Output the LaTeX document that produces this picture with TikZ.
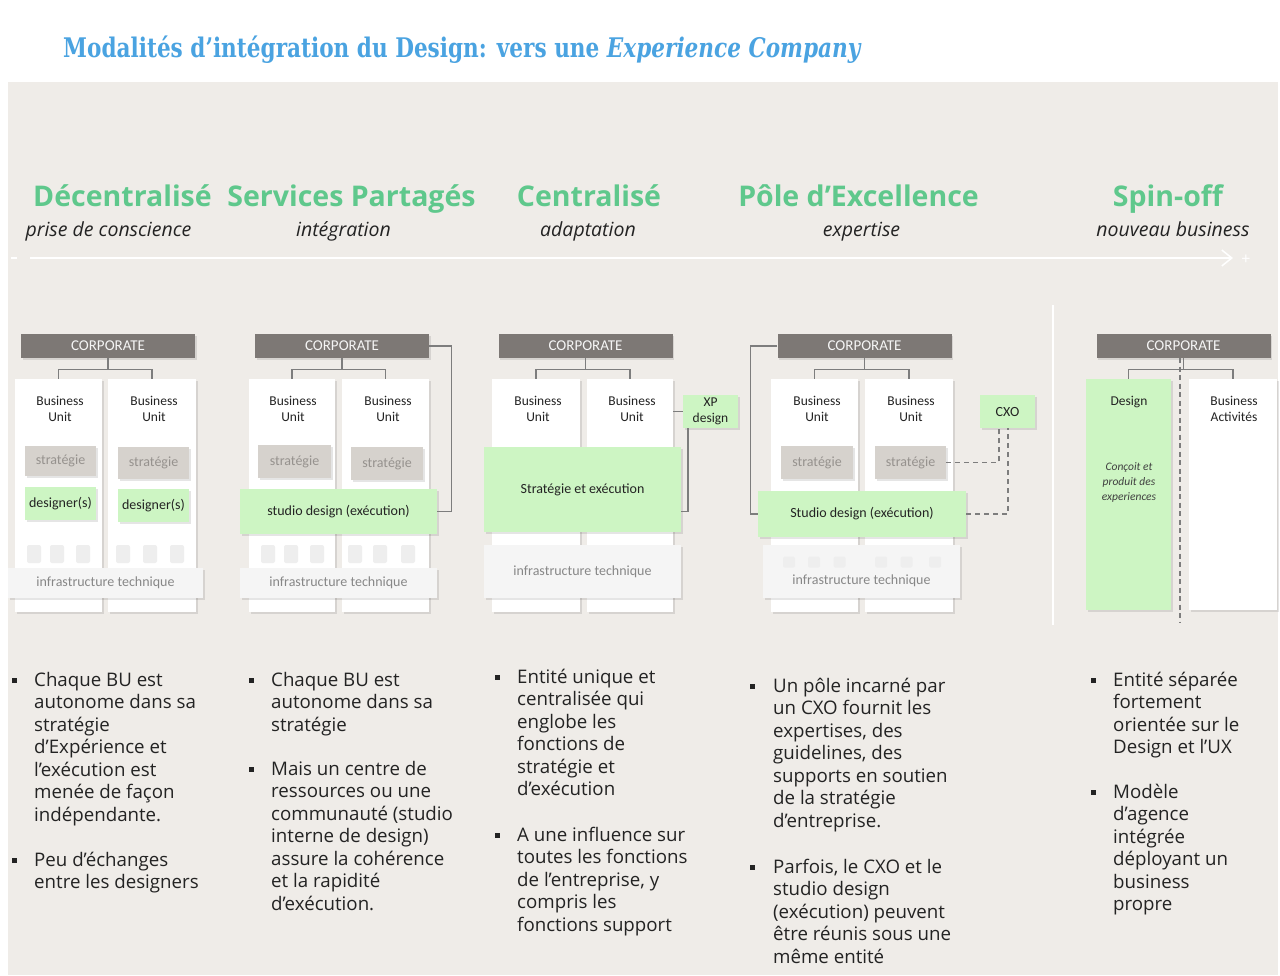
\documentclass[tikz,border=0pt]{standalone}
\usepackage{fontspec}
\setmainfont{Open Sans}
\newfontfamily\carl{Carlito}
\newfontfamily\ttlf{DejaVu Serif}
\usetikzlibrary{calc,arrows.meta,shadows}
\definecolor{bg}{RGB}{239,236,232}
\definecolor{titleblue}{RGB}{74,163,225}
\definecolor{hdrgreen}{RGB}{95,200,140}
\definecolor{corpgray}{RGB}{125,120,117}
\definecolor{stratgray}{RGB}{214,210,205}
\definecolor{strattext}{RGB}{150,146,142}
\definecolor{lgreen}{RGB}{205,245,195}
\definecolor{infrac}{RGB}{245,245,245}
\definecolor{infratext}{RGB}{135,135,135}
\definecolor{conngray}{RGB}{125,125,125}
\definecolor{textdark}{RGB}{35,35,35}
\definecolor{sqc}{RGB}{238,238,238}
\begin{document}
\begin{tikzpicture}[x=1pt,y=-1pt,
  shd/.style={drop shadow={shadow xshift=1.5pt,shadow yshift=-2pt,fill=black,opacity=0.10}},
  corp/.style={fill=corpgray,text=white!92!gray,font=\carl\fontsize{15}{18}\selectfont,minimum width=174,minimum height=24,inner sep=0,text depth=1pt,shd},
  colw/.style={fill=white,inner sep=0,shd},
  lbl/.style={font=\carl\fontsize{13.5}{16.5}\selectfont,text=textdark,align=center,inner sep=0},
  strat/.style={fill=stratgray,text=strattext,font=\carl\fontsize{14}{17}\selectfont,inner sep=0,shd},
  gbox/.style={fill=lgreen,text=textdark,font=\carl\fontsize{14}{17}\selectfont,inner sep=0,align=center,shd},
  infra/.style={fill=infrac,text=infratext,font=\carl\fontsize{14}{17}\selectfont,inner sep=0,shd},
  infratxt/.style={text=infratext,font=\carl\fontsize{14}{17}\selectfont,inner sep=0},
  sq/.style={fill=sqc,minimum width=14,minimum height=18,inner sep=0,rounded corners=2},
  sqs/.style={fill=sqc,minimum width=12,minimum height=11,inner sep=0,rounded corners=1.5},
  conn/.style={draw=conngray,line width=1.4},
  dconn/.style={draw=conngray,line width=1.4,dash pattern=on 5pt off 4pt},
  hdr/.style={text=hdrgreen,font=\fontsize{28.5}{32}\selectfont\bfseries,anchor=base,inner sep=0},
  sub/.style={text=textdark,font=\fontsize{19.5}{22}\selectfont\itshape,anchor=base,inner sep=0},
  bul/.style={fill=textdark,minimum size=5,inner sep=0},
  btxt/.style={text=textdark,font=\fontsize{18.7}{22.5}\selectfont,align=left,anchor=north west,inner sep=0}
]
\useasboundingbox (0,0) rectangle (1280,975);
\fill[white] (0,0) rectangle (1280,975);
\fill[bg] (8,82) rectangle (1278,975);

% title
\node[anchor=base west,inner sep=0,text=titleblue,font=\ttlf\bfseries\fontsize{27}{30}\selectfont] (title) at (63,57)
  {\scalebox{0.8}[1]{Modalités d’intégration du Design: vers une \textit{Experience Company}}};

% headers
\node[hdr] (h1) at (122.5,206) {Décentralisé};
\node[hdr] (h2) at (351.5,206) {Services Partagés};
\node[hdr] (h3) at (589,206) {Centralisé};
\node[hdr] (h4) at (858.5,206) {Pôle d’Excellence};
\node[hdr] (h5) at (1168,206) {Spin-off};
\node[sub] (s1) at (108.5,236) {prise de conscience};
\node[sub] (s2) at (343.5,236) {intégration};
\node[sub] (s3) at (588,236) {adaptation};
\node[sub] (s4) at (861.5,236) {expertise};
\node[sub] (s5) at (1173,236) {nouveau business};

% arrow
\coordinate (a0) at (30,258);
\coordinate (a1) at (1233,258);
\draw[white,line width=1.5,-{Straight Barb[length=10pt,width=16pt,line width=1.5pt]}] (a0) -- (a1);
\node[text=white,font=\fontsize{16}{16}\selectfont,inner sep=0] (plus) at (1246,260) {+};
\coordinate (m0) at (11,258);
\coordinate (m1) at (17,258);
\draw[white,line width=1.2] (m0) -- (m1);

% divider
\coordinate (v0) at (1053,305);
\coordinate (v1) at (1053,625);
\draw[white,line width=2.2] (v0) -- (v1);

% ===== Diagram 1
\node[corp] (k1) at (108,346) {CORPORATE};
\node[colw,minimum width=87,minimum height=233] (u1a) at (58.5,495.5) {};
\node[colw,minimum width=88,minimum height=233] (u1b) at (152,495.5) {};
\draw[conn] (k1.south) -- ++(0,11) -| (u1a.north);
\draw[conn] (k1.south) ++(0,11) -| (u1b.north);
\node[lbl] (bu1a) at (60,409) {Business\\Unit};
\node[lbl] (bu1b) at (154,409) {Business\\Unit};
\node[strat,minimum width=71,minimum height=30] (st1a) at (60.5,461) {stratégie};
\node[strat,minimum width=71,minimum height=32] (st1b) at (153.5,463) {stratégie};
\node[gbox,minimum width=71,minimum height=33] (d1a) at (60.5,503.5) {designer(s)};
\node[gbox,minimum width=71,minimum height=33] (d1b) at (153.5,505.5) {designer(s)};
\foreach \x [count=\i] in {34,57,83,123,150,177} \node[sq] (q1\i) at (\x,554) {};
\node[infra,minimum width=195,minimum height=30] (i1) at (105.5,583) {infrastructure technique};

% ===== Diagram 2
\node[corp] (k2) at (342,346) {CORPORATE};
\node[colw,minimum width=86,minimum height=233] (u2a) at (292,495.5) {};
\node[colw,minimum width=87,minimum height=233] (u2b) at (385.5,495.5) {};
\draw[conn] (k2.south) -- ++(0,11) -| (u2a.north);
\draw[conn] (k2.south) ++(0,11) -| (u2b.north);
\node[lbl] (bu2a) at (293,409) {Business\\Unit};
\node[lbl] (bu2b) at (388,409) {Business\\Unit};
\node[strat,minimum width=73,minimum height=33] (st2a) at (294.5,461.5) {stratégie};
\node[strat,minimum width=72,minimum height=33] (st2b) at (387,463.5) {stratégie};
\node[gbox,minimum width=197,minimum height=45] (d2) at (338.5,511.5) {studio design (exécution)};
\draw[conn] (k2.east) -- ++(22,0) |- (d2.east);
\foreach \x [count=\i] in {268,291,317,355,380,408} \node[sq] (q2\i) at (\x,554) {};
\node[infra,minimum width=197,minimum height=30] (i2) at (338.5,583) {infrastructure technique};

% ===== Diagram 3
\node[corp] (k3) at (585.5,346) {CORPORATE};
\node[colw,minimum width=88,minimum height=233] (u3a) at (536,495.5) {};
\node[colw,minimum width=86,minimum height=233] (u3b) at (630,495.5) {};
\draw[conn] (k3.south) -- ++(0,11) -| (u3a.north);
\draw[conn] (k3.south) ++(0,11) -| (u3b.north);
\node[lbl] (bu3a) at (538,409) {Business\\Unit};
\node[lbl] (bu3b) at (632,409) {Business\\Unit};
\node[gbox,minimum width=55,minimum height=33,font=\carl\fontsize{13.5}{16}\selectfont] (xp) at (710.5,411.5) {XP\\design};
\node[gbox,minimum width=197,minimum height=85] (d3) at (582.5,489.5) {Stratégie et exécution};
\draw[conn] (u3b.east |- xp.west) -- (xp.west);
\draw[conn] ([xshift=5pt]xp.south west) |- ($(d3.east)+(0,22)$);
\node[infra,minimum width=197,minimum height=53] (i3) at (582.5,571.5) {infrastructure technique};

% ===== Diagram 4
\node[corp] (k4) at (864.5,346) {CORPORATE};
\node[colw,minimum width=87,minimum height=233] (u4a) at (814.5,495.5) {};
\node[colw,minimum width=88,minimum height=233] (u4b) at (909,495.5) {};
\draw[conn] (k4.south) -- ++(0,11) -| (u4a.north);
\draw[conn] (k4.south) ++(0,11) -| (u4b.north);
\node[lbl] (bu4a) at (817,409) {Business\\Unit};
\node[lbl] (bu4b) at (911,409) {Business\\Unit};
\node[strat,minimum width=72,minimum height=33] (st4a) at (817,462.5) {stratégie};
\node[strat,minimum width=71,minimum height=33] (st4b) at (910.5,462.5) {stratégie};
\node[gbox,minimum width=208,minimum height=46] (d4) at (862,514) {Studio design (exécution)};
\node[gbox,minimum width=55,minimum height=33] (cxo) at (1007.5,411.5) {CXO};
\draw[conn] (k4.west) -- ++(-27,0) |- (d4.west);
\draw[dconn] (st4b.east) -| ([xshift=-8.5pt]cxo.south);
\draw[dconn] (d4.east) -| ([xshift=0.5pt]cxo.south);
\node[infra,minimum width=197,minimum height=53] (i4) at (861.5,571.5) {};
\foreach \x [count=\i] in {789,814,839.5,881,906.5,935} \node[sqs] (q4\i) at (\x,562) {};
\node[infratxt] (i4t) at (861.5,581) {infrastructure technique};

% ===== Diagram 5
\node[corp] (k5) at (1183.5,346) {CORPORATE};
\node[fill=lgreen,inner sep=0,shd,minimum width=85,minimum height=231] (u5a) at (1128.5,494.5) {};
\node[colw,minimum width=88,minimum height=231] (u5b) at (1233,494.5) {};
\draw[conn] (k5.south) -- ++(0,11) -| (u5a.north);
\draw[conn] (k5.south) ++(0,11) -| (u5b.north);
\coordinate (dv) at (1180,622);
\draw[dconn,dash pattern=on 5pt off 3.5pt,line width=1.2] (k5.south -| dv) -- (dv);
\node[lbl] (bu5a) at (1129,402) {Design};
\node[lbl] (bu5b) at (1234,409) {Business\\Activités};
\node[lbl,font=\carl\itshape\fontsize{11.5}{15}\selectfont,text=black!75] (cp) at (1129,482) {Conçoit et\\produit des\\experiences};

% ===== Bullets
\node[bul] (b1) at (14,680) {};
\node[btxt] (t1) at (34,667) {\rule{0pt}{19pt}Chaque BU est\\autonome dans sa\\stratégie\\d’Expérience et\\l’exécution est\\menée de façon\\indépendante.};
\node[bul] (b1b) at (14,860) {};
\node[btxt] (t1b) at (34,847) {\rule{0pt}{19pt}Peu d’échanges\\entre les designers};

\node[bul] (b2) at (251,680) {};
\node[btxt] (t2) at (271,667) {\rule{0pt}{19pt}Chaque BU est\\autonome dans sa\\stratégie};
\node[bul] (b2b) at (251,769) {};
\node[btxt] (t2b) at (271,756) {\rule{0pt}{19pt}Mais un centre de\\ressources ou une\\communauté (studio\\interne de design)\\assure la cohérence\\et la rapidité\\d’exécution.};

\node[bul] (b3) at (497,677) {};
\node[btxt] (t3) at (517,664) {\rule{0pt}{19pt}Entité unique et\\centralisée qui\\englobe les\\fonctions de\\stratégie et\\d’exécution};
\node[bul] (b3b) at (497,835) {};
\node[btxt] (t3b) at (517,822) {\rule{0pt}{19pt}A une influence sur\\toutes les fonctions\\de l’entreprise, y\\compris les\\fonctions support};

\node[bul] (b4) at (752,686) {};
\node[btxt] (t4) at (773,673) {\rule{0pt}{19pt}Un pôle incarné par\\un CXO fournit les\\expertises, des\\guidelines, des\\supports en soutien\\de la stratégie\\d’entreprise.};
\node[bul] (b4b) at (752,867) {};
\node[btxt] (t4b) at (773,854) {\rule{0pt}{19pt}Parfois, le CXO et le\\studio design\\(exécution) peuvent\\être réunis sous une\\même entité};

\node[bul] (b5) at (1093,680) {};
\node[btxt] (t5) at (1113,667) {\rule{0pt}{19pt}Entité séparée\\fortement\\orientée sur le\\Design et l’UX};
\node[bul] (b5b) at (1093,792) {};
\node[btxt] (t5b) at (1113,779) {\rule{0pt}{19pt}Modèle\\d’agence\\intégrée\\déployant un\\business\\propre};
\end{tikzpicture}
\end{document}
